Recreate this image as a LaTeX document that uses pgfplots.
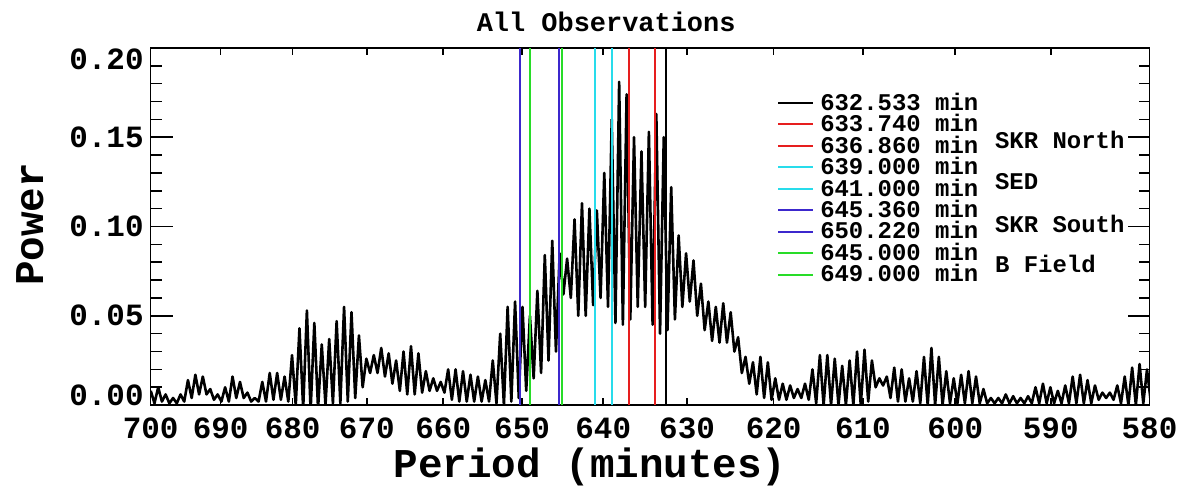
\documentclass[border=0pt]{standalone}
\usepackage{fontspec}
\setmainfont{Liberation Mono}
\usepackage{pgfplots}
\pgfplotsset{compat=1.18}
\usepackage{pgfplotstable}
\definecolor{cR}{RGB}{230,30,30}
\definecolor{cC}{RGB}{40,220,235}
\definecolor{cB}{RGB}{60,40,205}
\definecolor{cG}{RGB}{40,220,40}

% x = 1000/period (axis is linear in frequency), p = power
\pgfplotstableread{
f p
1.4286 0.008
1.4297 0.001
1.4308 0.010
1.4319 0.002
1.4330 0.006
1.4341 0.001
1.4352 0.004
1.4363 0.001
1.4374 0.006
1.4385 0.002
1.4396 0.014
1.4407 0.004
1.4418 0.017
1.4429 0.006
1.4440 0.016
1.4451 0.006
1.4462 0.009
1.4473 0.003
1.4484 0.006
1.4495 0.002
1.4506 0.010
1.4517 0.002
1.4528 0.016
1.4539 0.004
1.4550 0.013
1.4561 0.004
1.4572 0.007
1.4583 0.002
1.4594 0.004
1.4605 0.002
1.4616 0.013
1.4627 0.002
1.4638 0.018
1.4649 0.003
1.4660 0.018
1.4671 0.003
1.4682 0.016
1.4693 0.002
1.4704 0.028
1.4715 0.000
1.4726 0.043
1.4737 -0.002
1.4748 0.053
1.4759 -0.003
1.4770 0.046
1.4781 -0.002
1.4792 0.034
1.4803 0.000
1.4814 0.037
1.4825 0.001
1.4836 0.047
1.4847 0.001
1.4858 0.055
1.4869 0.002
1.4880 0.052
1.4891 0.004
1.4902 0.039
1.4913 0.010
1.4924 0.026
1.4935 0.018
1.4946 0.028
1.4957 0.018
1.4968 0.032
1.4979 0.016
1.4990 0.029
1.5001 0.012
1.5012 0.025
1.5023 0.008
1.5034 0.030
1.5045 0.006
1.5056 0.033
1.5067 0.006
1.5078 0.029
1.5089 0.007
1.5100 0.019
1.5111 0.008
1.5122 0.015
1.5133 0.008
1.5144 0.013
1.5155 0.007
1.5166 0.020
1.5177 0.003
1.5188 0.020
1.5199 0.002
1.5210 0.019
1.5221 0.002
1.5232 0.017
1.5243 0.002
1.5254 0.016
1.5265 0.002
1.5276 0.014
1.5287 0.002
1.5298 0.025
1.5309 0.001
1.5320 0.040
1.5331 0.000
1.5342 0.055
1.5353 0.002
1.5364 0.058
1.5375 0.004
1.5386 0.055
1.5397 0.008
1.5408 0.050
1.5419 0.015
1.5430 0.064
1.5441 0.018
1.5452 0.084
1.5463 0.025
1.5474 0.092
1.5485 0.030
1.5496 0.085
1.5507 0.062
1.5518 0.082
1.5529 0.060
1.5540 0.104
1.5551 0.050
1.5562 0.113
1.5573 0.050
1.5584 0.110
1.5595 0.056
1.5606 0.109
1.5617 0.060
1.5628 0.130
1.5639 0.055
1.5650 0.160
1.5661 0.046
1.5672 0.181
1.5683 0.045
1.5694 0.174
1.5705 0.048
1.5716 0.150
1.5727 0.055
1.5738 0.142
1.5749 0.055
1.5760 0.153
1.5771 0.045
1.5782 0.163
1.5793 0.040
1.5804 0.150
1.5815 0.042
1.5826 0.122
1.5837 0.048
1.5848 0.095
1.5859 0.055
1.5870 0.085
1.5881 0.058
1.5892 0.081
1.5903 0.050
1.5914 0.068
1.5925 0.042
1.5936 0.058
1.5947 0.036
1.5958 0.055
1.5969 0.035
1.5980 0.057
1.5991 0.035
1.6002 0.052
1.6013 0.030
1.6024 0.038
1.6035 0.018
1.6046 0.027
1.6057 0.012
1.6068 0.024
1.6079 0.006
1.6090 0.027
1.6101 0.004
1.6112 0.024
1.6123 0.003
1.6134 0.015
1.6145 0.003
1.6156 0.012
1.6167 0.003
1.6178 0.011
1.6189 0.004
1.6200 0.009
1.6211 0.004
1.6222 0.012
1.6233 0.003
1.6244 0.020
1.6255 0.001
1.6266 0.028
1.6277 0.000
1.6288 0.028
1.6299 0.000
1.6310 0.026
1.6321 0.000
1.6332 0.022
1.6343 0.000
1.6354 0.025
1.6365 0.000
1.6376 0.030
1.6387 0.000
1.6398 0.031
1.6409 0.002
1.6420 0.025
1.6431 0.010
1.6442 0.015
1.6453 0.011
1.6464 0.016
1.6475 0.004
1.6486 0.021
1.6497 0.002
1.6508 0.020
1.6519 0.002
1.6530 0.015
1.6541 0.002
1.6552 0.019
1.6563 0.001
1.6574 0.027
1.6585 0.000
1.6596 0.032
1.6607 0.000
1.6618 0.027
1.6629 0.000
1.6640 0.019
1.6651 0.001
1.6662 0.015
1.6673 0.001
1.6684 0.017
1.6695 0.001
1.6706 0.019
1.6717 0.001
1.6728 0.016
1.6739 0.001
1.6750 0.009
1.6761 0.001
1.6772 0.004
1.6783 0.001
1.6794 0.004
1.6805 0.001
1.6816 0.006
1.6827 0.001
1.6838 0.005
1.6849 0.001
1.6860 0.004
1.6871 0.001
1.6882 0.005
1.6893 0.001
1.6904 0.010
1.6915 0.001
1.6926 0.012
1.6937 0.001
1.6948 0.010
1.6959 0.001
1.6970 0.008
1.6981 0.001
1.6992 0.011
1.7003 0.001
1.7014 0.016
1.7025 0.001
1.7036 0.017
1.7047 0.001
1.7058 0.014
1.7069 0.001
1.7080 0.011
1.7091 0.003
1.7102 0.007
1.7113 0.004
1.7124 0.007
1.7135 0.003
1.7146 0.011
1.7157 0.001
1.7168 0.016
1.7179 0.000
1.7190 0.021
1.7201 0.000
1.7212 0.023
1.7223 0.001
1.7234 0.020
1.7245 0.002
1.7256 0.015
}\curve

\begin{document}
\begin{tikzpicture}
\begin{axis}[
  scale only axis, width=500.5pt, height=179pt,
  xmin=1.428571, xmax=1.724138, ymin=0, ymax=0.2,
  xtick={1.428571,1.449275,1.470588,1.492537,1.515152,1.538462,1.5625,1.587302,1.612903,1.639344,1.666667,1.694915,1.724138},
  xticklabels={700,690,680,670,660,650,640,630,620,610,600,590,580},
  ytick={0,0.05,0.1,0.15,0.2},
  yticklabels={\raisebox{0pt}[0pt][0pt]{0.00},\raisebox{-5pt}[0pt][0pt]{0.05},\raisebox{-5pt}[0pt][0pt]{0.10},\raisebox{-5pt}[0pt][0pt]{0.15},\raisebox{-11pt}[0pt][0pt]{0.20}},
  minor y tick num=4,
  tick align=inside,
  xtick style={/pgfplots/major tick length=3.5pt, black, line width=0.8pt},
  ytick style={/pgfplots/major tick length=11pt, /pgfplots/minor tick length=5.5pt, black, line width=0.8pt},
  /pgf/number format/assume math mode=true,
  ticklabel style={font=\bfseries\fontsize{15.5}{15.5}\selectfont},
  xticklabel style={yshift=-3pt},
  axis line style={line width=0.8pt},
  every axis title shift=0pt,
  title={All Observations},
  title style={at={(axis description cs:0.456,1.0726)}, anchor=center, inner sep=0pt, font=\bfseries\fontsize{13.5}{13.5}\selectfont},
  xlabel={Period (minutes)},
  xlabel style={at={(axis description cs:0.44,-0.1732)}, anchor=center, inner sep=0pt, font=\bfseries\fontsize{20.5}{20.5}\selectfont},
  ylabel={Power},
  ylabel style={at={(axis description cs:-0.1209,0.506)}, anchor=center, inner sep=0pt, font=\bfseries\fontsize{20.5}{20.5}\selectfont},
  legend style={at={(axis description cs:0.627,0.877)}, anchor=north west, draw=none, fill=none,
    font=\bfseries\fontsize{12}{12}\selectfont, inner sep=0pt, row sep=0pt,
    nodes={inner sep=0.5pt, text height=8.5pt, text depth=1.25pt}},
  legend cell align=left,
  legend image code/.code={\draw[#1] (0pt,0pt) -- (17.5pt,0pt); \path (20pt,0pt);},
]
\addplot[black, line width=1.3pt, line join=round, forget plot] table[x=f,y=p]{\curve};
\addplot[black, line width=1pt] coordinates {(1.580946,0) (1.580946,0.2)};
\addplot[cR, line width=1pt] coordinates {(1.577934,0) (1.577934,0.2)};
\addplot[cR, line width=1pt] coordinates {(1.570204,0) (1.570204,0.2)};
\addplot[cC, line width=1pt] coordinates {(1.564945,0) (1.564945,0.2)};
\addplot[cC, line width=1pt] coordinates {(1.560062,0) (1.560062,0.2)};
\addplot[cB, line width=1pt] coordinates {(1.549523,0) (1.549523,0.2)};
\addplot[cB, line width=1pt] coordinates {(1.537942,0) (1.537942,0.2)};
\addplot[cG, line width=1pt] coordinates {(1.550388,0) (1.550388,0.2)};
\addplot[cG, line width=1pt] coordinates {(1.540832,0) (1.540832,0.2)};
\legend{632.533 min,633.740 min,636.860 min,639.000 min,641.000 min,645.360 min,650.220 min,645.000 min,649.000 min}
\node[anchor=west, inner sep=0pt, font=\bfseries\fontsize{12}{12}\selectfont] at (axis description cs:0.845,0.743) {SKR North};
\node[anchor=west, inner sep=0pt, font=\bfseries\fontsize{12}{12}\selectfont] at (axis description cs:0.845,0.626) {SED};
\node[anchor=west, inner sep=0pt, font=\bfseries\fontsize{12}{12}\selectfont] at (axis description cs:0.845,0.506) {SKR South};
\node[anchor=west, inner sep=0pt, font=\bfseries\fontsize{12}{12}\selectfont] at (axis description cs:0.845,0.394) {B Field};
\end{axis}
\path ([shift={(-75.5pt,-41.5pt)}]current axis.south west) rectangle ([shift={(516.5pt,203pt)}]current axis.south west);
\end{tikzpicture}
\end{document}
